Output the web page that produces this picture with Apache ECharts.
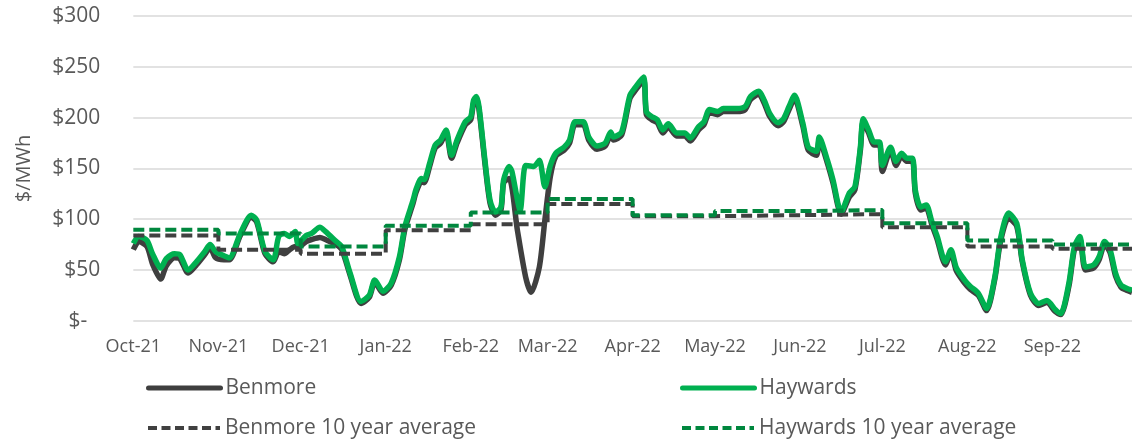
<!DOCTYPE html>
<html>
<head>
<meta charset="utf-8">
<script src="https://cdn.jsdelivr.net/npm/echarts@6/dist/echarts.min.js"></script>
<style>
  html, body { margin: 0; padding: 0; background: #ffffff; }
  #chart { width: 1132px; height: 442px; }
</style>
</head>
<body>
<div id="chart"></div>
<script>
// day offsets are counted from 1 Oct 2021
const monthNames = ['Jan', 'Feb', 'Mar', 'Apr', 'May', 'Jun', 'Jul', 'Aug', 'Sep', 'Oct', 'Nov', 'Dec'];

const haywardsDays = [0, 2, 5, 7, 10, 12, 15, 17, 20, 23, 26, 28, 30, 33, 35, 39, 43, 45, 48, 51,
  53, 55, 57, 59, 60, 63, 65, 68, 70, 74, 76, 79, 83, 86, 88, 91, 94, 97, 99, 102,
  103, 105, 106, 108, 110, 112, 114, 116, 118, 121, 123, 124, 125, 126, 128, 130, 132, 134, 135, 137,
  138, 141, 143, 146, 148, 150, 152, 154, 157, 159, 161, 164, 166, 169, 172, 174, 175, 178, 181, 183,
  186, 187, 189, 191, 193, 195, 198, 201, 203, 206, 208, 210, 213, 215, 218, 220, 223, 225, 228, 230,
  232, 235, 237, 239, 241, 244, 246, 249, 250, 253, 255, 258, 261, 263, 265, 266, 268, 270, 272, 273,
  276, 278, 280, 282, 284, 285, 287, 289, 291, 293, 296, 298, 300, 303, 305, 308, 311, 314, 316, 319,
  322, 324, 327, 330, 333, 336, 338, 341, 343, 345, 347, 350, 352, 354, 356, 358, 360, 362, 364];
const haywardsPrice = [76, 83, 79, 66, 52, 61, 66, 65, 50, 58, 68, 75, 68, 64, 62, 86, 104, 99, 68, 60,
  83, 86, 83, 88, 76, 84, 86, 92, 88, 78, 73, 47, 19, 25, 40, 29, 37, 63, 93, 119,
  129, 140, 139, 155, 173, 178, 188, 163, 178, 196, 201, 217, 221, 211, 162, 119, 107, 112, 139, 152,
  147, 109, 153, 152, 158, 132, 153, 165, 171, 178, 196, 196, 181, 172, 175, 186, 181, 186, 222, 230,
  240, 206, 201, 198, 188, 194, 185, 185, 180, 191, 196, 208, 206, 209, 209, 209, 211, 221, 226, 217,
  204, 195, 199, 211, 222, 195, 171, 167, 181, 158, 139, 107, 126, 132, 171, 199, 188, 176, 176, 153,
  171, 157, 165, 160, 160, 129, 112, 114, 98, 83, 58, 70, 52, 40, 34, 27, 12, 43, 80, 106,
  96, 60, 27, 17, 20, 11, 7, 37, 73, 83, 53, 55, 63, 78, 70, 47, 35, 32, 30];

const benmoreDays = [0, 2, 5, 7, 10, 12, 15, 17, 20, 23, 26, 28, 30, 33, 35, 39, 43, 45, 48, 51,
  53, 55, 57, 59, 60, 63, 65, 68, 70, 74, 76, 79, 83, 86, 88, 91, 94, 97, 99, 102,
  103, 105, 106, 108, 110, 112, 114, 116, 118, 121, 123, 124, 125, 126, 128, 130, 132, 134, 135, 137,
  140, 143, 145, 148, 150, 152, 154, 157, 159, 161, 164, 166, 169, 172, 174, 175, 178, 181, 183,
  186, 187, 189, 191, 193, 195, 198, 201, 203, 206, 208, 210, 213, 215, 218, 220, 223, 225, 228, 230,
  232, 235, 237, 239, 241, 244, 246, 249, 250, 253, 255, 258, 261, 263, 265, 266, 268, 270, 272, 273,
  276, 278, 280, 282, 284, 285, 287, 289, 291, 293, 296, 298, 300, 303, 305, 308, 311, 314, 316, 319,
  322, 324, 327, 330, 333, 336, 338, 341, 343, 345, 347, 350, 352, 354, 356, 358, 360, 362, 364];
const benmorePrice = [70, 78, 73, 56, 41, 54, 62, 61, 47, 55, 65, 72, 62, 60, 60, 84, 102, 97, 66, 58,
  68, 66, 70, 73, 72, 78, 80, 82, 80, 75, 70, 45, 17, 23, 38, 27, 35, 60, 90, 116,
  126, 137, 136, 152, 170, 175, 185, 160, 175, 193, 198, 214, 218, 208, 159, 116, 104, 109, 136, 140,
  89, 43, 28, 53, 99, 142, 162, 168, 175, 193, 193, 178, 169, 172, 183, 178, 183, 219, 227,
  237, 203, 198, 195, 185, 191, 182, 182, 177, 188, 193, 205, 203, 206, 206, 206, 208, 218, 223, 214,
  201, 192, 196, 208, 219, 192, 168, 163, 178, 155, 136, 105, 122, 129, 168, 196, 185, 173, 173, 147,
  168, 153, 162, 157, 157, 126, 109, 111, 95, 80, 55, 67, 49, 37, 31, 25, 10, 41, 77, 101,
  93, 58, 25, 15, 18, 9, 6, 34, 70, 80, 50, 52, 60, 75, 67, 44, 33, 30, 28];

// monthly 10 year averages, Oct-21 .. Sep-22
const avgMonths = ['2021-10', '2021-11', '2021-12', '2022-01', '2022-02', '2022-03',
  '2022-04', '2022-05', '2022-06', '2022-07', '2022-08', '2022-09'];
const benmoreAvg = [84, 70, 66, 89, 95, 115, 103, 104, 105, 92, 73, 71];
const haywardsAvg = [89.5, 86, 73, 93.5, 106.5, 120, 104, 108, 109, 96, 79, 75];

const yTicks = [0, 50, 100, 150, 200, 250, 300];

const DAY = 86400000;
const t0 = new Date(2021, 9, 1).getTime();
const tEnd = new Date(2022, 8, 30).getTime();

function daily(days, vals) {
  return days.map((d, i) => [t0 + d * DAY, vals[i]]);
}
function monthly(vals) {
  const pts = avgMonths.map((m, i) => {
    const p = m.split('-');
    return [new Date(+p[0], +p[1] - 1, 1).getTime(), vals[i]];
  });
  pts.push([tEnd, vals[vals.length - 1]]);
  return pts;
}

const grey = '#595959';
const font = 'Open Sans';

const chart = echarts.init(document.getElementById('chart'));
const option = {
  animation: false,
  textStyle: { fontFamily: font },
  grid: { left: 133.3, top: 16.2, width: 1003.2, height: 304.5 },
  legend: [
    { data: ['Benmore'], left: 146, top: 376, lineStyle: { width: 5, cap: 'round' } },
    { data: ['Haywards'], left: 680, top: 376, lineStyle: { width: 5, cap: 'round' } },
    { data: ['Benmore 10 year average'], left: 146, top: 416, lineStyle: { width: 4, type: [9, 4.5] } },
    { data: ['Haywards 10 year average'], left: 680, top: 416, lineStyle: { width: 4, type: [9, 4.5] } }
  ].map(l => Object.assign(l, {
    padding: 0,
    itemWidth: 72,
    itemHeight: 14,
    itemGap: 0,
    itemStyle: { opacity: 0 },
    textStyle: { color: grey, fontSize: 21, fontFamily: font, lineHeight: 24 }
  })),
  xAxis: {
    type: 'time',
    min: t0,
    max: tEnd,
    minInterval: 28 * DAY,
    maxInterval: 31 * DAY,
    axisLine: { show: false },
    axisTick: { show: false },
    splitLine: { show: false },
    axisLabel: {
      color: grey,
      fontSize: 18,
      fontFamily: font,
      margin: 17,
      hideOverlap: false,
      formatter: function (val) {
        const d = new Date(val);
        return monthNames[d.getMonth()] + '-' + String(d.getFullYear()).slice(2);
      }
    }
  },
  yAxis: {
    type: 'value',
    min: yTicks[0],
    max: yTicks[yTicks.length - 1],
    interval: 50,
    name: '$/MWh',
    nameLocation: 'middle',
    nameGap: 99,
    nameTextStyle: { color: grey, fontSize: 20, fontFamily: font },
    axisLine: { show: false },
    axisTick: { show: false },
    splitLine: { lineStyle: { color: '#d9d9d9', width: 1.5 } },
    axisLabel: {
      color: grey,
      fontSize: 21,
      fontFamily: font,
      margin: 33,
      formatter: function (v) { return v === 0 ? '{z|$-}' : '$' + v; },
      rich: { z: { color: grey, fontSize: 21, fontFamily: font, padding: [0, 13, 0, 0] } }
    }
  },
  series: [
    {
      name: 'Benmore', type: 'line', data: daily(benmoreDays, benmorePrice),
      showSymbol: false, symbol: 'none', smooth: 0.25,
      lineStyle: { color: '#3f3f3f', width: 5.5, join: 'round' }, itemStyle: { color: '#3f3f3f' }
    },
    {
      name: 'Haywards', type: 'line', data: daily(haywardsDays, haywardsPrice),
      showSymbol: false, symbol: 'none', smooth: 0.25,
      lineStyle: { color: '#00b050', width: 5.5, join: 'round' }, itemStyle: { color: '#00b050' }
    },
    {
      name: 'Benmore 10 year average', type: 'line', data: monthly(benmoreAvg),
      step: 'end', showSymbol: false, symbol: 'none',
      lineStyle: { color: '#404040', width: 4, type: [11, 5] }, itemStyle: { color: '#404040' }
    },
    {
      name: 'Haywards 10 year average', type: 'line', data: monthly(haywardsAvg),
      step: 'end', showSymbol: false, symbol: 'none',
      lineStyle: { color: '#00873e', width: 4, type: [11, 5] }, itemStyle: { color: '#00873e' }
    }
  ]
};
chart.setOption(option);
</script>
</body>
</html>
